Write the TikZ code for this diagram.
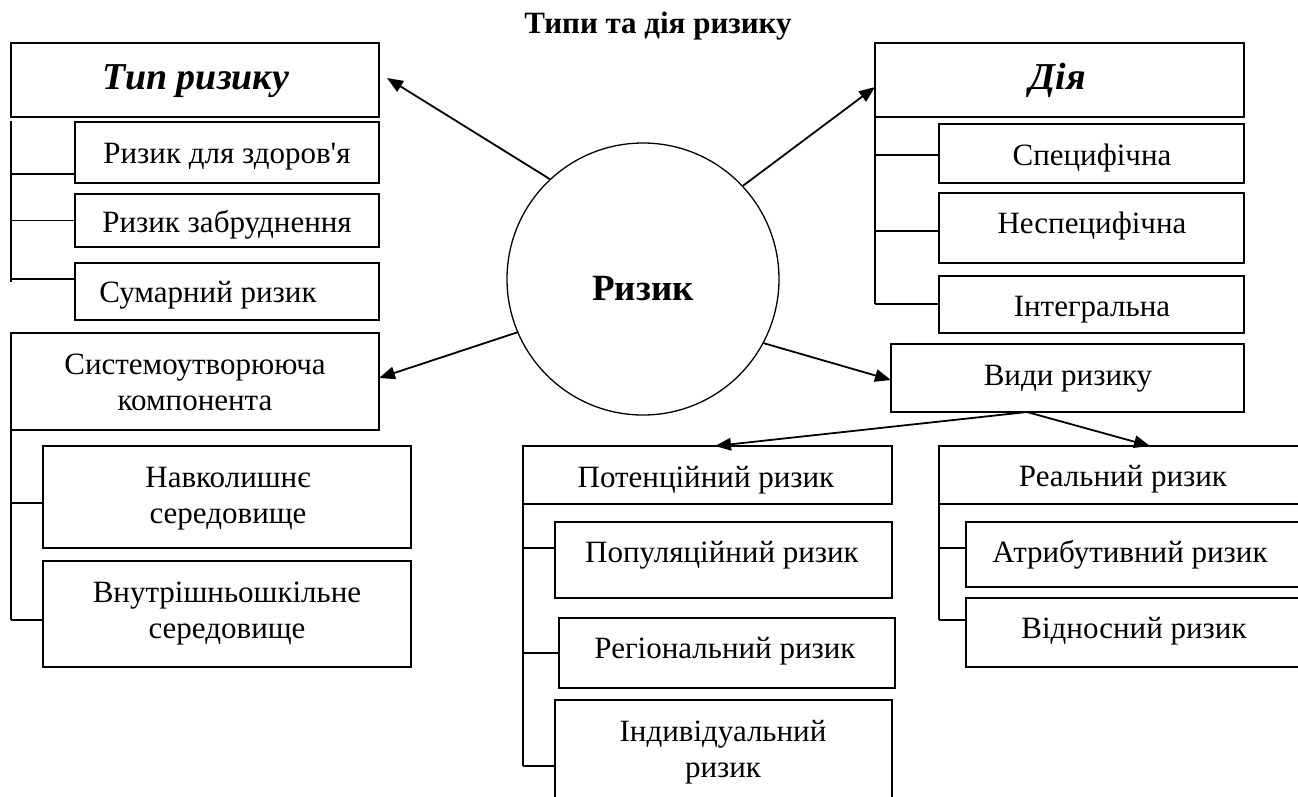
\documentclass[tikz,border=0pt]{standalone}
\usepackage{fontspec}
\setmainfont{Liberation Serif}
\newfontfamily\plainapos{Liberation Serif}[Ligatures=TeXOff]
\usetikzlibrary{arrows.meta}
\tikzset{
  bx/.style={draw, line width=1.8pt, inner sep=0pt, outer sep=0pt},
  txt/.style={inner sep=0pt, anchor=base, align=center, font=\fontsize{31}{36}\selectfont},
  ln/.style={line width=1.8pt},
  arr/.style={line width=1.8pt, -{Triangle[length=16pt,width=12.5pt]}},
}
\newcommand\mkbox[5]{\node[bx, minimum width={(#4-#2)*1pt}, minimum height={(#5-#3)*1pt}] (#1) at ({(#2+#4)/2},{(#3+#5)/2}) {};}
\newcommand\mktxt[4]{\node[txt] (#1) at (#2,#3) {#4};}
\newcommand\mkbranch[3]{\draw[ln] ([yshift=#3]#2.west) -- ([yshift=#3]#2.west -| #1.west);}
\begin{document}
\begin{tikzpicture}[x=1pt,y=-1pt]
\useasboundingbox (0,0) rectangle (1298,796);
% title
\node[txt, font=\fontsize{31}{36}\selectfont\bfseries] (title) at (658,33) {Типи та дія ризику};
% centre circle
\node[circle, draw, line width=1.3pt, minimum size=272pt, inner sep=0pt] (risk) at (643,279) {};
\node[txt, font=\fontsize{37}{40}\selectfont\bfseries] (risk-t) at (643,300) {Ризик};
% left top group
\mkbox{typ}{11}{43}{379}{117}
\node[txt, font=\fontsize{38}{40}\selectfont\bfseries\itshape] (typ-t) at (196,89) {Тип ризику};
\mkbox{zd}{75}{122}{379}{183}
\mktxt{zd-t}{227}{163}{Ризик для здоров{\plainapos'}я}
\mkbox{zab}{75}{194}{379}{247}
\mktxt{zab-t}{227}{232}{Ризик забруднення}
\mkbox{sum}{75}{263}{379}{320}
\mktxt{sum-t}{208}{302}{Сумарний ризик}
\draw[ln] ([yshift=-4pt]typ.south west) -- ([yshift=9.5pt]sum.west -| typ.west);
\mkbranch{typ}{zd}{-21.5pt}
\mkbranch{typ}{zab}{0pt}
\mkbranch{typ}{sum}{12.5pt}
% left bottom group
\mkbox{sys}{11}{333}{379}{430}
\mktxt{sys-t}{195}{410}{Системоутворююча\\компонента}
\mkbox{nav}{43}{446}{411}{548}
\mktxt{nav-t}{228}{523}{Навколишнє\\середовище}
\mkbox{vnu}{43}{561}{411}{667}
\mktxt{vnu-t}{227}{638}{Внутрішньошкільне\\середовище}
\draw[ln] (sys.south west) -- ([yshift=-6pt]vnu.west -| sys.west);
\mkbranch{sys}{nav}{-6pt}
\mkbranch{sys}{vnu}{-6pt}
% right top group
\mkbox{diya}{875}{43}{1244}{117}
\node[txt, font=\fontsize{38}{40}\selectfont\bfseries\itshape] (diya-t) at (1058,89) {Дія};
\mkbox{spec}{939}{124}{1244}{183}
\mktxt{spec-t}{1092}{165}{Специфічна}
\mkbox{nespec}{939}{193}{1244}{263}
\mktxt{nespec-t}{1092}{233}{Неспецифічна}
\mkbox{integ}{939}{276}{1244}{333}
\mktxt{integ-t}{1092}{316}{Інтегральна}
\draw[ln] (diya.south west) -- ([yshift=0.5pt]integ.west -| diya.west);
\mkbranch{diya}{spec}{-1.5pt}
\mkbranch{diya}{nespec}{-3pt}
\mkbranch{diya}{integ}{0.5pt}
% kinds of risk
\mkbox{vydy}{891}{344}{1244}{412}
\mktxt{vydy-t}{1068}{385}{Види ризику}
\mkbox{pot}{523}{446}{892}{504}
\mktxt{pot-t}{706}{487}{Потенційний ризик}
\mkbox{pop}{555}{522}{892}{598}
\mktxt{pop-t}{722}{562}{Популяційний ризик}
\mkbox{reg}{559}{618}{895}{688}
\mktxt{reg-t}{725}{658}{Регіональний ризик}
\mkbox{ind}{555}{700}{892}{810}
\mktxt{ind-t}{723}{777}{Індивідуальний\\ризик}
\draw[ln] (pot.south west) -- ([yshift=-11pt]ind.west -| pot.west);
\mkbranch{pot}{pop}{12pt}
\mkbranch{pot}{reg}{0pt}
\mkbranch{pot}{ind}{-11pt}
\mkbox{real}{939}{446}{1307}{504}
\mktxt{real-t}{1123}{486}{Реальний ризик}
\mkbox{atr}{966}{522}{1305}{587}
\mktxt{atr-t}{1130}{562}{Атрибутивний ризик}
\mkbox{vid}{966}{598}{1305}{667}
\mktxt{vid-t}{1134}{638}{Відносний ризик}
\draw[ln] (real.south west) -- ([yshift=12.5pt]vid.west -| real.west);
\mkbranch{real}{atr}{6.5pt}
\mkbranch{real}{vid}{12.5pt}
% arrows
\draw[arr] (risk.133) -- ([xshift=8pt,yshift=2pt]typ.east);
\draw[arr] (risk.43) -- ([yshift=-7pt]diya.west);
\draw[arr] (risk.203) -- ([yshift=3.5pt]sys.east);
\draw[arr] (risk.332) -- ([yshift=-2pt]vydy.west);
\draw[arr] ([xshift=-40.5pt]vydy.south) -- ([xshift=7.5pt]pot.north);
\draw[arr] ([xshift=-40.5pt]vydy.south) -- ([xshift=27pt]real.north);
\end{tikzpicture}
\end{document}
